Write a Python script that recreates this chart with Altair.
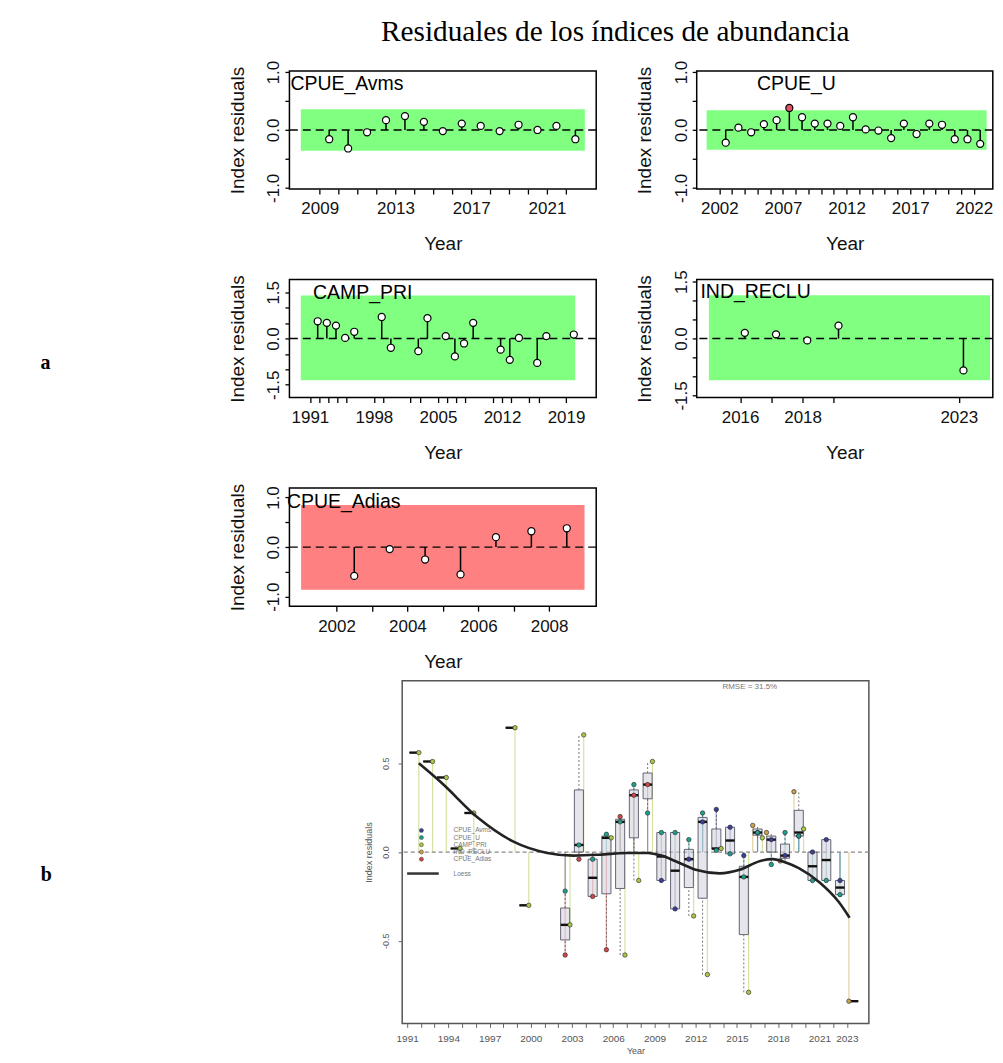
import math
import numpy as np
import pandas as pd
import altair as alt

SANS = "Liberation Sans"
SERIF = "Liberation Serif"
TITLE = "Residuales de los índices de abundancia"

# ---------------- data ----------------
index_names = ["CPUE_Avms", "CPUE_U", "CAMP_PRI", "IND_RECLU", "CPUE_Adias"]
index_colors = ["#3B3F9A", "#1FA08C", "#A9C84A", "#C9A24E", "#D04848"]
season_offset = [0.5, 0.5, 0.85, 0.15, 0.5]
runs_pass = [True, True, True, True, False]
sigma3_lo = [-0.36, -0.34, -1.35, -1.10, -0.86]
sigma3_hi = [0.36, 0.34, 1.40, 1.14, 0.85]

avms_years = [2009, 2010, 2011, 2012, 2013, 2014, 2015, 2016, 2017, 2018, 2019, 2020, 2021, 2022]
avms_res = [-0.16, -0.32, -0.04, 0.17, 0.24, 0.14, -0.02, 0.11, 0.07, -0.02, 0.09, 0.00, 0.07, -0.16]

u_years = [2002, 2003, 2004, 2005, 2006, 2007, 2008, 2009, 2010, 2011, 2012,
           2013, 2014, 2015, 2016, 2017, 2018, 2019, 2020, 2021, 2022]
u_res = [-0.22, 0.04, -0.04, 0.10, 0.17, 0.38, 0.22, 0.11, 0.11, 0.07, 0.22,
         0.01, -0.01, -0.14, 0.11, -0.07, 0.11, 0.09, -0.16, -0.16, -0.24]

camp_years = [1991, 1992, 1993, 1994, 1995, 1998, 1999, 2002, 2003, 2005,
              2006, 2007, 2008, 2011, 2012, 2013, 2015, 2016, 2019]
camp_res = [0.56, 0.51, 0.42, 0.02, 0.22, 0.70, -0.30, -0.41, 0.66, 0.08,
            -0.58, -0.16, 0.51, -0.36, -0.69, 0.02, -0.79, 0.08, 0.13]

reclu_years = [2016, 2017, 2018, 2019, 2023]
reclu_res = [0.15, 0.11, -0.05, 0.34, -0.84]

adias_years = [2002, 2003, 2004, 2005, 2006, 2007, 2008]
adias_res = [-0.58, -0.04, -0.25, -0.55, 0.20, 0.32, 0.38]

# loess smoother of the joint residual plot
loess_t = [1991.85, 1993.5, 1996.2, 1998.7, 2001.2, 2003.1, 2005.0, 2007.0, 2008.5,
           2009.5, 2010.5, 2012.0, 2013.75, 2015.2, 2016.7, 2017.6, 2018.6, 2019.5,
           2021.0, 2022.4, 2023.2]
loess_v = [0.50, 0.39, 0.19, 0.06, -0.005, -0.02, -0.015, -0.005, -0.005,
           -0.02, -0.05, -0.10, -0.12, -0.10, -0.05, -0.04, -0.06, -0.09,
           -0.17, -0.28, -0.37]

series_years = [avms_years, u_years, camp_years, reclu_years, adias_years]
series_res = [avms_res, u_res, camp_res, reclu_res, adias_res]

rows = []
for k, name in enumerate(index_names):
    for yr, r in zip(series_years[k], series_res[k]):
        rows.append(dict(series=name, yr=yr, t=yr + season_offset[k], r=r, zero=0.0))
allpts = pd.DataFrame(rows)

# ---------------- axis helpers ----------------
def xax(values, labeled, size=17, pad=7, tick=5, ext=29, tpad=17, tsize=19,
        color="#111111", tickcolor="black", tickw=1.3):
    cond = " || ".join(f"datum.value == {v}" for v in labeled)
    return alt.Axis(values=values, format="d", labelExpr=f"({cond}) ? datum.label : ''",
                    title="Year", grid=False, domain=False, ticks=True, tickSize=tick,
                    tickWidth=tickw, tickColor=tickcolor, labelFont=SANS, labelFontSize=size,
                    labelColor=color, labelPadding=pad, labelOverlap=False, labelFlush=False,
                    titleFont=SANS, titleFontSize=tsize, titleFontWeight="normal",
                    titleColor=color, titlePadding=tpad, minExtent=ext, maxExtent=ext)


def yax(values, labeled, size=17, pad=6, tick=4.5, ext=26, tpad=20, tsize=19,
        color="#111111", tickcolor="black", tickw=1.3):
    cond = " || ".join(f"datum.value == {v}" for v in labeled)
    return alt.Axis(values=values, format=".1f",
                    labelExpr=f"({cond}) ? replace(datum.label, '\u2212', '-') : ''",
                    title="Index residuals", grid=False, domain=False, ticks=True,
                    tickSize=tick, tickWidth=tickw, tickColor=tickcolor,
                    labelFont=SANS, labelFontSize=size, labelColor=color,
                    labelAngle=270, labelAlign="center", labelBaseline="alphabetic",
                    labelPadding=pad, labelOverlap=False, labelFlush=False,
                    titleFont=SANS, titleFontSize=tsize, titleFontWeight="normal",
                    titleColor=color, titleAngle=270, titleBaseline="alphabetic",
                    titlePadding=tpad, minExtent=ext, maxExtent=ext)


PW = 307.4
PW2 = 296.7
PH = 118.3


def runs_panel(k, xdom, ydom, yvals, ylab, xlab, label_xy, width, extra=()):
    name = index_names[k]
    d = allpts[allpts.series == name].copy()
    lo, hi = sigma3_lo[k], sigma3_hi[k]
    d["fill"] = np.where((d.r > hi) | (d.r < lo), "#DF536B", "white")
    band = pd.DataFrame({"x": [d.yr.min() - 1], "x2": [d.yr.max() + 1], "y": [lo], "y2": [hi]})
    xa = xax(sorted(d.yr.tolist()), xlab)
    ya = yax(yvals, ylab)

    def X(f):
        return alt.X(f"{f}:Q", scale=alt.Scale(domain=xdom, nice=False, zero=False), axis=xa)

    def Y(f):
        return alt.Y(f"{f}:Q", scale=alt.Scale(domain=ydom, nice=False, zero=False), axis=ya)

    band_col = "#80FF80" if runs_pass[k] else "#FF8080"
    bandl = alt.Chart(band).mark_rect(color=band_col).encode(x=X("x"), x2="x2", y=Y("y"), y2="y2")
    zero = alt.Chart(pd.DataFrame({"y": [0.0]})).mark_rule(
        color="black", strokeWidth=1.4, strokeDash=[8, 5]).encode(y=Y("y"))
    stems = alt.Chart(d).mark_rule(color="black", strokeWidth=1.5).encode(
        x=X("t"), y=Y("zero"), y2="r")
    pts = alt.Chart(d).mark_circle(size=50, stroke="black", strokeWidth=1.2, opacity=1).encode(
        x=X("t"), y=Y("r"), fill=alt.Fill("fill:N", scale=None))
    lab = alt.Chart(pd.DataFrame({"x": [label_xy[0]], "y": [label_xy[1]], "s": [name]})).mark_text(
        align="left", baseline="middle", font=SANS, fontSize=19.5, color="black").encode(
        x=X("x"), y=Y("y"), text="s:N")
    layers = [bandl, zero, stems, pts, lab] + list(extra)
    return alt.layer(*layers).properties(
        width=width, height=PH, view=alt.ViewBackground(stroke="black", strokeWidth=1.5))


one = pd.DataFrame({"s": [""]})
title_layer = alt.Chart(pd.DataFrame({"s": [TITLE]})).mark_text(
    font=SERIF, fontSize=29.3, align="center", baseline="middle", color="black").encode(
    x=alt.value(326.5), y=alt.value(-39.0), text="s:N")
a_layer = alt.Chart(pd.DataFrame({"s": ["a"]})).mark_text(
    font=SERIF, fontSize=20, fontWeight="bold", align="center", baseline="middle", color="black").encode(
    x=alt.value(-244.5), y=alt.value(83.7), text="s:N")

y1 = [-1.0, -0.5, 0.0, 0.5, 1.0]
y15 = [-1.5, -1.0, -0.5, 0.0, 0.5, 1.0, 1.5]

p1 = runs_panel(0, [2007.4, 2023.6], [-1.02, 1.02], y1, [-1, 0, 1], [2009, 2013, 2017, 2021],
                (2007.45, 0.79), PW, extra=[title_layer])
p2 = runs_panel(1, [2000.22, 2023.49], [-1.02, 1.02], y1, [-1, 0, 1], [2002, 2007, 2012, 2017, 2022],
                (2004.95, 0.79), PW2)
p3 = runs_panel(2, [1988.76, 2022.3], [-1.915, 1.915], y15, [-1.5, 0, 1.5],
                [1991, 1998, 2005, 2012, 2019], (1991.33, 1.48), PW, extra=[a_layer])
p4 = runs_panel(3, [2014.61, 2024.09], [-1.556, 1.556], y15, [-1.5, 0, 1.5], [2016, 2018, 2023],
                (2014.73, 1.22), PW2)
p5 = runs_panel(4, [2000.67, 2009.33], [-1.19, 1.19], y1, [-1, 0, 1], [2002, 2004, 2006, 2008],
                (2000.6, 0.91), PW)

# ---------------- joint residual plot ----------------
def fivenum(v):
    v = sorted(v)
    n = len(v)
    n4 = math.floor((n + 3) / 2) / 2
    dd = [1, n4, (n + 1) / 2, n + 1 - n4, n]
    return [0.5 * (v[math.floor(i) - 1] + v[math.ceil(i) - 1]) for i in dd]


box_rows = []
for yr, grp in allpts.groupby("yr"):
    mn, lo, med, hi, mx = fivenum(grp.r.tolist())
    c = yr + 0.5
    box_rows.append(dict(c=c, x1=c - 0.33, x2=c + 0.33, mn=mn, lo=lo, med=med, hi=hi, mx=mx))
boxes = pd.DataFrame(box_rows)

rmse = math.sqrt(float(np.mean(np.square(allpts.r))))

PBW = 467.6
PBH = 343.4
pb_xa = xax(list(range(1991, 2024)), list(range(1991, 2022, 3)) + [2023], size=10, pad=6, tick=4,
            ext=20, tpad=3, tsize=9, color="#555555", tickcolor="#666666", tickw=1)
pb_ya = yax([-0.5, 0.0, 0.5], [-0.5, 0, 0.5], size=9, pad=10, tick=4, ext=23, tpad=8, tsize=9,
            color="#555555", tickcolor="#666666", tickw=1)


def BX(f):
    return alt.X(f"{f}:Q", scale=alt.Scale(domain=[1990.64, 2024.6], nice=False, zero=False), axis=pb_xa)


def BY(f):
    return alt.Y(f"{f}:Q", scale=alt.Scale(domain=[-0.965, 0.965], nice=False, zero=False), axis=pb_ya)


cscale = alt.Scale(domain=index_names, range=index_colors)

vlines = alt.Chart(allpts).mark_rule(strokeWidth=1.2, opacity=0.5).encode(
    x=BX("t"), y=BY("zero"), y2="r", color=alt.Color("series:N", scale=cscale, legend=None))
zline = alt.Chart(pd.DataFrame({"y": [0.0]})).mark_rule(
    color="#888888", strokeWidth=1.2, strokeDash=[4, 3]).encode(y=BY("y"))
whisk_lo = alt.Chart(boxes).mark_rule(color="#555555", strokeWidth=0.8, strokeDash=[2, 2]).encode(
    x=BX("c"), y=BY("mn"), y2="lo")
whisk_hi = alt.Chart(boxes).mark_rule(color="#555555", strokeWidth=0.8, strokeDash=[2, 2]).encode(
    x=BX("c"), y=BY("hi"), y2="mx")
boxl = alt.Chart(boxes).mark_rect(fill="#CFCFDA", fillOpacity=0.55, stroke="#555566", strokeWidth=0.9).encode(
    x=BX("x1"), x2="x2", y=BY("lo"), y2="hi")
medl = alt.Chart(boxes).mark_rule(color="#111111", strokeWidth=2.4).encode(
    x=BX("x1"), x2="x2", y=BY("med"))
bpts = alt.Chart(allpts).mark_circle(size=20, stroke="#222222", strokeWidth=0.6, opacity=1).encode(
    x=BX("t"), y=BY("r"), fill=alt.Fill("series:N", scale=cscale, legend=None))
loess = alt.Chart(pd.DataFrame({"t": loess_t, "v": loess_v})).mark_line(
    color="#222222", strokeWidth=2.6, interpolate="monotone").encode(x=BX("t"), y=BY("v"))

leg = pd.DataFrame({"series": index_names})
leg["px"] = 1992.04
leg["tx"] = 1994.38
leg["py"] = [0.122 - 0.0405 * i for i in range(len(index_names))]
leg_pts = alt.Chart(leg).mark_circle(size=16, stroke="#333333", strokeWidth=0.5, opacity=1).encode(
    x=BX("px"), y=BY("py"), fill=alt.Fill("series:N", scale=cscale, legend=None))
leg_txt = alt.Chart(leg).mark_text(align="left", baseline="middle", font=SANS, fontSize=6.5,
                                   color="#777777").encode(x=BX("tx"), y=BY("py"), text="series:N")
leg_line_df = pd.DataFrame({"x": [1991.0], "x2": [1993.3], "y": [0.122 - 0.0405 * 6], "tx": [1994.38], "s": ["Loess"]})
leg_line = alt.Chart(leg_line_df).mark_rule(color="#333333", strokeWidth=2.5).encode(
    x=BX("x"), x2="x2", y=BY("y"))
leg_line_txt = alt.Chart(leg_line_df).mark_text(align="left", baseline="middle", font=SANS, fontSize=6.5,
                                                color="#777777").encode(x=BX("tx"), y=BY("y"), text="s:N")
rmse_txt = alt.Chart(pd.DataFrame({"s": [f"RMSE = {rmse * 100:.1f}%"]})).mark_text(
    font=SANS, fontSize=8, color="#777777", align="center", baseline="middle").encode(
    x=alt.value(348.3), y=alt.value(6.4), text="s:N")
b_layer = alt.Chart(pd.DataFrame({"s": ["b"]})).mark_text(
    font=SERIF, fontSize=20, fontWeight="bold", align="center", baseline="middle", color="black").encode(
    x=alt.value(-356.7), y=alt.value(194.7), text="s:N")

pb = alt.layer(vlines, zline, whisk_lo, whisk_hi, boxl, medl, bpts, loess,
               leg_pts, leg_txt, leg_line, leg_line_txt, rmse_txt, b_layer).properties(
    width=PBW, height=PBH, view=alt.ViewBackground(stroke="#555555", strokeWidth=1.5))

spacer = alt.Chart(one).mark_text(text="").encode(x=alt.value(0), y=alt.value(0)).properties(
    width=12.2, height=PBH, view=alt.ViewBackground(stroke="transparent", strokeWidth=0))

# rows are nested groups; with flush bounds their own size is not counted,
# so the spacing equals the distance between the tops of consecutive rows.
row1 = alt.hconcat(p1, p2, spacing=100.1, bounds="flush")
row2 = alt.hconcat(p3, p4, spacing=100.1, bounds="flush")
row3 = alt.hconcat(p5, bounds="flush")
row4 = alt.hconcat(spacer, pb, spacing=100.0, bounds="flush")
inner = alt.vconcat(row1, row2, row3, spacing=209.0, bounds="flush")

chart = alt.vconcat(inner, row4, spacing=611.0, bounds="flush").properties(
    padding={"left": 31, "top": 8, "right": 0, "bottom": 0}
).configure(font=SANS).configure_view(stroke="transparent")

chart.save("out.html", embed_options={"renderer": "svg", "actions": False})
